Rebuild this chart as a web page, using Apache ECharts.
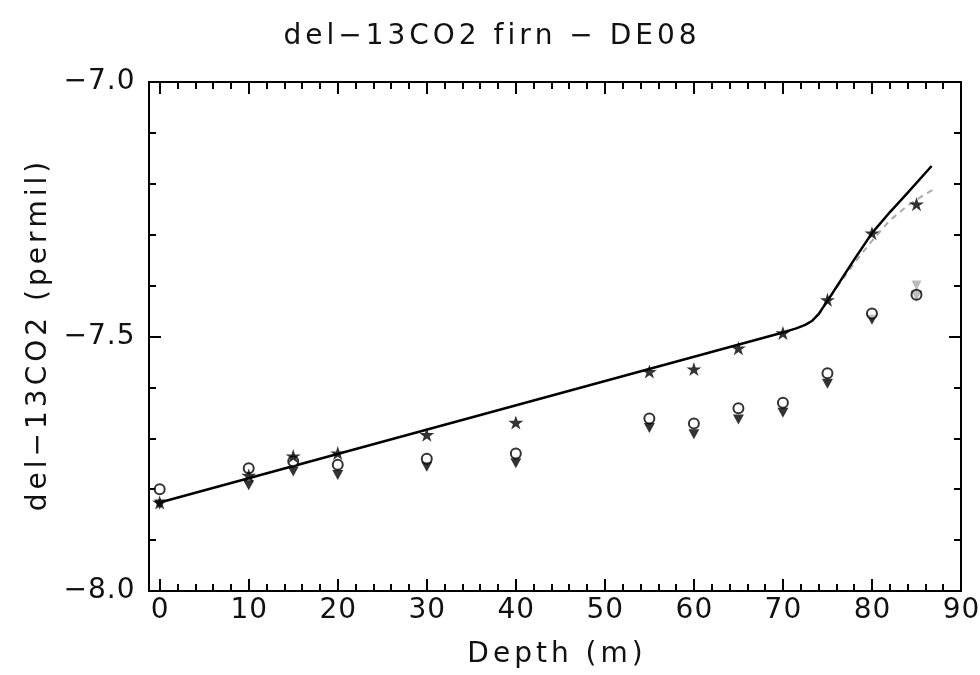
<!DOCTYPE html>
<html>
<head>
<meta charset="utf-8">
<script src="https://cdn.jsdelivr.net/npm/echarts@6/dist/echarts.min.js"></script>
<style>html,body{margin:0;padding:0;background:#fff}#c{width:980px;height:675px}</style>
</head>
<body>
<div id="c"></div>
<script>
// ---- data ----
const depths = [0, 10, 15, 20, 30, 40, 55, 60, 65, 70, 75, 80, 85];
const starVals = [-7.826, -7.773, -7.735, -7.729, -7.693, -7.669, -7.569, -7.564, -7.523, -7.493, -7.428, -7.297, -7.240];
const circleVals = [-7.800, -7.759, -7.745, -7.752, -7.740, -7.730, -7.661, -7.671, -7.641, -7.630, -7.572, -7.455, -7.418];
const triangleVals = [-7.830, -7.792, -7.765, -7.772, -7.756, -7.749, -7.680, -7.692, -7.663, -7.650, -7.593, -7.467, -7.420];
const grayMarkDepths = [85];
const grayMarkVals = [-7.400];
const modelDepths = [0, 70, 71.5, 72.5, 73.3, 74, 75, 76, 77, 78, 79, 80, 82, 84, 86.7];
const modelVals = [-7.826, -7.492, -7.484, -7.477, -7.469, -7.456, -7.430, -7.403, -7.376, -7.349, -7.323, -7.297, -7.256, -7.218, -7.165];
const model2Depths = [74, 76, 78, 80, 82, 84, 86, 87.2];
const model2Vals = [-7.458, -7.405, -7.356, -7.312, -7.272, -7.243, -7.220, -7.208];
const xMajorTicks = [0, 10, 20, 30, 40, 50, 60, 70, 80, 90];
const xMinorTicks = [2,4,6,8,12,14,16,18,22,24,26,28,32,34,36,38,42,44,46,48,52,54,56,58,62,64,66,68,72,74,76,78,82,84,86,88];
const titleText = 'del\u221213CO2 firn \u2212 DE08';
const xName = 'Depth (m)';
const yName = 'del\u221213CO2 (permil)';

const zip = (xs, ys) => xs.map((x, i) => [x, ys[i]]);
const spaced = (s, st) => s.split('').map(c => '{' + st + '|' + c + '}').join('');
const FONT = 'DejaVu Sans';
const rich = {
  s: { fontSize: 28, fontFamily: FONT, fontWeight: 'normal', color: '#111', padding: [0, 2, 0, 2] },
  t: { fontSize: 28, fontFamily: FONT, fontWeight: 'normal', color: '#111', padding: [0, 0.5, 0, 0.5] }
};
const STAR = 'path://M50,0 L61.8,35.4 L100,35.4 L69.1,57.3 L80.9,92.7 L50,70.8 L19.1,92.7 L30.9,57.3 L0,35.4 L38.2,35.4 Z';

const XMIN = -1.2, XMAX = 90;
function xAx(pos, ticks, len, withLine, withLabel, withName) {
  return {
    type: 'value', position: pos, min: XMIN, max: XMAX,
    axisLine: { show: withLine, onZero: false, lineStyle: { color: '#000', width: 2 } },
    axisTick: { show: true, inside: true, length: len, customValues: ticks, lineStyle: { color: '#000', width: 2 } },
    axisLabel: withLabel ? {
      show: true, customValues: xMajorTicks, margin: 6,
      formatter: v => spaced(String(v), 't'), rich: rich
    } : { show: false },
    splitLine: { show: false },
    name: withName ? spaced(xName, 's') : '',
    nameLocation: 'middle', nameGap: 50,
    nameTextStyle: { rich: rich }
  };
}
function yAx(pos, withLabel, withName) {
  return {
    type: 'value', position: pos, min: -8, max: -7, interval: 0.5,
    axisLine: { show: true, onZero: false, lineStyle: { color: '#000', width: 2 } },
    axisTick: { show: true, inside: true, length: 12, lineStyle: { color: '#000', width: 2 } },
    minorTick: { show: true, splitNumber: 5, length: 7, lineStyle: { color: '#000', width: 2 } },
    axisLabel: withLabel ? {
      show: true, margin: 14,
      formatter: v => spaced(v.toFixed(1).replace('-', '\u2212'), 't'), rich: rich
    } : { show: false },
    splitLine: { show: false },
    name: withName ? spaced(yName, 's') : '',
    nameLocation: 'middle', nameGap: 96, nameRotate: 90,
    nameTextStyle: { rich: rich }
  };
}

const chart = echarts.init(document.getElementById('c'), null, { renderer: 'canvas' });
chart.setOption({
  backgroundColor: '#fff',
  animation: false,
  title: {
    text: spaced(titleText, 's'), left: 'center', top: 18,
    textStyle: { fontWeight: 'normal', rich: rich }
  },
  grid: { left: 149, right: 19, top: 82, bottom: 84, containLabel: false, outerBoundsMode: 'none' },
  xAxis: [
    xAx('bottom', xMajorTicks, 12, true, true, true),
    xAx('bottom', xMinorTicks, 7, false, false, false),
    xAx('top', xMajorTicks, 12, true, false, false),
    xAx('top', xMinorTicks, 7, false, false, false)
  ],
  yAxis: [yAx('left', true, true), yAx('right', false, false)],
  series: [
    {
      type: 'line', data: zip(model2Depths, model2Vals), symbol: 'none', z: 2,
      lineStyle: { color: '#aaa', width: 2, type: [6, 5] }
    },
    {
      type: 'line', data: zip(modelDepths, modelVals), symbol: 'none', z: 3,
      lineStyle: { color: '#000', width: 2.5, join: 'round' }
    },
    {
      type: 'scatter', data: zip(grayMarkDepths, grayMarkVals), symbol: 'triangle', symbolRotate: 180,
      symbolSize: 10, z: 4, itemStyle: { color: '#aaa' }
    },
    {
      type: 'scatter', data: zip(depths, triangleVals), symbol: 'triangle', symbolRotate: 180,
      symbolSize: [11, 10], z: 5, itemStyle: { color: '#000' }
    },
    {
      type: 'scatter', data: zip(depths, circleVals), symbol: 'circle', symbolSize: 10, z: 6,
      itemStyle: { color: 'rgba(255,255,255,0.85)', borderColor: '#000', borderWidth: 2 }
    },
    {
      type: 'scatter', data: zip(depths, starVals), symbol: STAR, symbolSize: [15, 14], z: 7,
      itemStyle: { color: '#000' }
    }
  ]
});
</script>
</body>
</html>
